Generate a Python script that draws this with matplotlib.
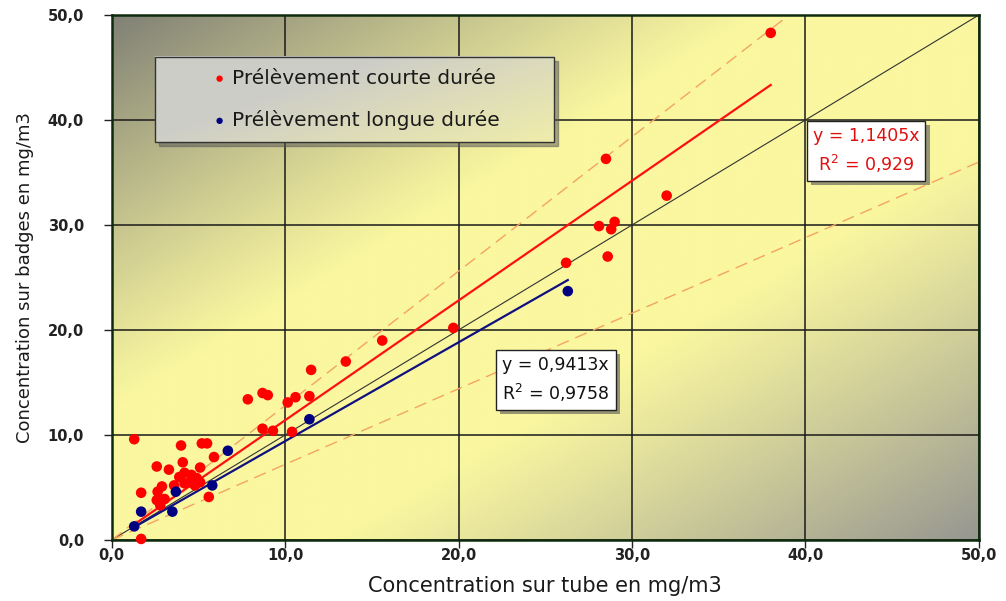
import matplotlib.pyplot as plt
import numpy as np
from matplotlib.ticker import FuncFormatter, MultipleLocator
from matplotlib.patches import Rectangle
from matplotlib import patheffects

# mesures courte durée (tube, badge)
court_x = [38.0, 28.5, 32.0, 28.1, 29.0, 28.8, 28.6, 26.2, 19.7, 15.6, 13.5, 11.5,
           7.85, 8.7, 9.0, 10.15, 10.6, 11.4, 8.7, 9.3, 10.4, 1.3, 4.0, 5.2, 5.5,
           5.9, 2.6, 3.3, 4.1, 5.1, 3.9, 4.2, 4.6, 4.9, 4.5, 5.1, 3.6, 4.2, 4.8,
           2.9, 1.7, 2.65, 2.6, 3.05, 2.8, 5.6, 1.7]
court_y = [48.3, 36.3, 32.8, 29.9, 30.3, 29.6, 27.0, 26.4, 20.2, 19.0, 17.0, 16.2,
           13.4, 14.0, 13.8, 13.1, 13.6, 13.7, 10.6, 10.4, 10.3, 9.6, 9.0, 9.2, 9.2,
           7.9, 7.0, 6.7, 7.4, 6.9, 6.0, 6.4, 6.2, 5.9, 5.5, 5.5, 5.2, 5.4, 5.2,
           5.1, 4.5, 4.6, 3.8, 3.9, 3.3, 4.1, 0.1]

# mesures longue durée
long_x = [26.3, 11.4, 6.7, 5.8, 3.7, 1.7, 3.5, 1.3]
long_y = [23.7, 11.5, 8.5, 5.2, 4.6, 2.7, 2.7, 1.3]

pente_court = 1.1405
pente_long = 0.9413
marge = 0.28  # enveloppe en pointillés

fig = plt.figure(figsize=(10.06, 6.01), dpi=100)
ax = fig.add_axes([0.111, 0.1015, 0.862, 0.8735])
ax.set_xlim(0, 50)
ax.set_ylim(0, 50)

# fond dégradé gris / jaune
u, v = np.meshgrid(np.linspace(0, 1, 300), np.linspace(0, 1, 300))
d = np.abs(u - v)
f = np.clip((d - 0.25) / 0.75, 0, 1) ** 1.1
jaune = np.array([250, 247, 160]) / 255
gris_haut = np.array([128, 128, 118]) / 255
gris_bas = np.array([150, 150, 145]) / 255
gris = np.where((v > u)[..., None], gris_haut, gris_bas)
img = jaune * (1 - f[..., None]) + gris * f[..., None]
ax.imshow(img, extent=[0, 1, 0, 1], transform=ax.transAxes, origin='lower',
          aspect='auto', zorder=0)

ax.grid(True, color='#1a1a1a', lw=1.1, zorder=1)
for s in ax.spines.values():
    s.set_color('#0d2a0d')
    s.set_linewidth(1.8)

xx = np.array([0, 50])
ax.plot(xx, xx, color='#333333', lw=0.8, zorder=2)
ax.plot(xx, (1 + marge) * xx, color='#f4a460', lw=1.0, ls=(0, (9, 5)), zorder=2)
ax.plot(xx, (1 - marge) * xx, color='#f4a460', lw=1.0, ls=(0, (9, 5)), zorder=2)

xc = np.array([min(court_x), max(court_x)])
ax.plot(xc, pente_court * xc, color='#ff1010', lw=1.6, zorder=3)
xl = np.array([min(long_x), max(long_x)])
ax.plot(xl, pente_long * xl, color='#101080', lw=1.6, zorder=3)

h1 = ax.scatter(court_x, court_y, s=58, color='#ff0000', edgecolors='none', zorder=4,
                label='Prélèvement courte durée', clip_on=False)
h2 = ax.scatter(long_x, long_y, s=58, color='#000080', edgecolors='none', zorder=5,
                label='Prélèvement longue durée', clip_on=False)

# cadre de légende avec dégradé
lx0, lx1, ly0, ly1 = 2.5, 25.5, 37.9, 46.0
ax.add_patch(Rectangle((lx0 + 0.25, ly0 - 0.4), lx1 - lx0, ly1 - ly0, color='#555555',
                       alpha=0.5, zorder=6))
gu, gv = np.meshgrid(np.linspace(0, 1, 100), np.linspace(0, 1, 50))
g = np.clip(gu * 0.8 + (1 - gv) * 0.5 - 0.45, 0, 1)
c1 = np.array([205, 205, 200]) / 255
c2 = np.array([245, 242, 165]) / 255
limg = c1 * (1 - g[..., None]) + c2 * g[..., None]
ax.imshow(limg, extent=[lx0, lx1, ly0, ly1], origin='lower', aspect='auto', zorder=7)
ax.add_patch(Rectangle((lx0, ly0), lx1 - lx0, ly1 - ly0, fill=False, ec='#333333',
                       lw=1.0, zorder=8))
ax.set_xlim(0, 50)
ax.set_ylim(0, 50)
leg = ax.legend(handles=[h1, h2], loc='center', bbox_to_anchor=(lx0, ly0, lx1 - lx0, ly1 - ly0),
                bbox_transform=ax.transData, frameon=False, markerscale=0.6,
                handletextpad=0.1, labelspacing=1.1, fontsize=14.5, handlelength=1.0)
leg.set_zorder(9)
for t in leg.get_texts():
    t.set_color('#1a1a1a')

# équations des droites
box = dict(boxstyle='square,pad=0.35', fc='white', ec='#222222', lw=1.0)
ombre = [patheffects.withSimplePatchShadow(offset=(3, -3), shadow_rgbFace='#555555', alpha=0.6)]
t1 = ax.text(0.87, 0.741, 'y = 1,1405x\nR$^2$ = 0,929', transform=ax.transAxes,
             ha='center', va='center', color='#e01010', fontsize=12.5,
             linespacing=1.4, bbox=box, zorder=9)
t2 = ax.text(0.512, 0.305, 'y = 0,9413x\nR$^2$ = 0,9758', transform=ax.transAxes,
             ha='center', va='center', color='#111111', fontsize=12.5,
             linespacing=1.4, bbox=box, zorder=9)
t1.get_bbox_patch().set_path_effects(ombre)
t2.get_bbox_patch().set_path_effects(ombre)

fmt = FuncFormatter(lambda val, pos: f"{val:.1f}".replace('.', ','))
ax.xaxis.set_major_locator(MultipleLocator(10))
ax.yaxis.set_major_locator(MultipleLocator(10))
ax.xaxis.set_major_formatter(fmt)
ax.yaxis.set_major_formatter(fmt)
ax.tick_params(direction='out', length=6, width=1, colors='#222222', labelsize=10.5)
ax.tick_params(axis='y', pad=14)
ax.tick_params(axis='x', pad=0)
for lab in ax.get_xticklabels() + ax.get_yticklabels():
    lab.set_fontweight('bold')

ax.set_xlabel('Concentration sur tube en mg/m3', fontsize=15, color='#1a1a1a', labelpad=9)
ax.set_ylabel('Concentration sur badges en mg/m3', fontsize=13, color='#1a1a1a', labelpad=10,
              family=['Liberation Sans Narrow', 'DejaVu Sans'])

plt.savefig('out.png', dpi=100)
